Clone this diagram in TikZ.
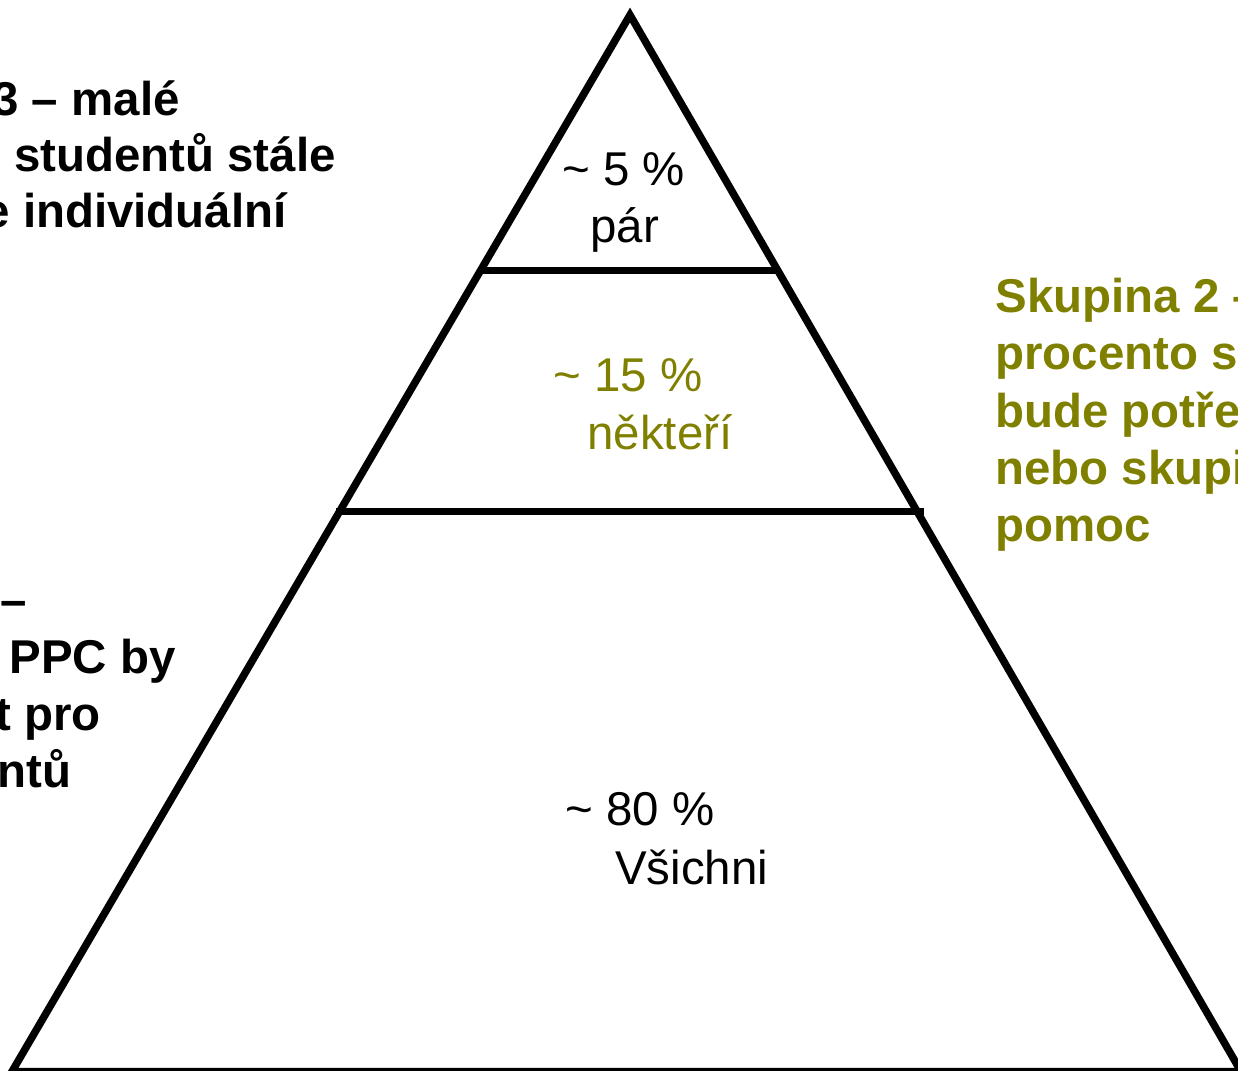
\documentclass[tikz,border=0pt]{standalone}
\usepackage{fontspec}
\setmainfont{Liberation Sans}
\definecolor{olivegreen}{RGB}{128,128,0}
\tikzset{
  label text/.style={inner sep=0pt, font=\fontsize{27pt}{32.4pt}\selectfont},
  side text/.style={inner sep=0pt, font=\fontsize{27pt}{32.4pt}\selectfont\bfseries}
}
\begin{document}
\begin{tikzpicture}[x=0.02cm, y=-0.02cm]
  \useasboundingbox (0,0) rectangle (1238,1071);
  \clip (0,0) rectangle (1238,1071);

  \coordinate (apex) at (630,15);
  \coordinate (left) at (12,1071.5);
  \coordinate (right) at (1241,1071.5);
  \draw[line width=0.15cm, line join=miter] (apex) -- (left) -- (right) -- cycle;

  \coordinate (top a) at (483,270.5);
  \coordinate (top b) at (778,270.5);
  \coordinate (mid a) at (336,511.5);
  \coordinate (mid b) at (924,511.5);
  \draw[line width=0.13cm] (top a) -- (top b);
  \draw[line width=0.13cm] (mid a) -- (mid b);

  \node[label text, anchor=base west] (few pct) at (562,186) {\textasciitilde\ 5 \%};
  \node[label text, anchor=base west] (few) at (590,243) {pár};
  \node[label text, anchor=base west, text=olivegreen] (some pct) at (553,392) {\textasciitilde\ 15 \%};
  \node[label text, anchor=base west, text=olivegreen] (some) at (587,449) {někteří};
  \node[label text, anchor=base west] (all pct) at (565,825) {\textasciitilde\ 80 \%};
  \node[label text, anchor=base west] (all) at (615,884) {Všichni};

  \node[side text, anchor=base east] (g3 a) at (180,116) {3 – malé};
  \node[side text, anchor=base east] (g3 b) at (336,172) {studentů stále};
  \node[side text, anchor=base east] (g3 c) at (287,228) {e individuální};

  \node[side text, anchor=base east] (g1 a) at (27,616) {–};
  \node[side text, anchor=base east] (g1 b) at (176,673) {PPC by};
  \node[side text, anchor=base east] (g1 c) at (101,730) {t pro};
  \node[side text, anchor=base east] (g1 d) at (72,787) {ntů};

  \node[side text, anchor=base west, text=olivegreen] (g2 a) at (995,313) {Skupina 2 –};
  \node[side text, anchor=base west, text=olivegreen] (g2 b) at (995,370) {procento s};
  \node[side text, anchor=base west, text=olivegreen] (g2 c) at (995,427) {bude potře};
  \node[side text, anchor=base west, text=olivegreen] (g2 d) at (995,484) {nebo skupi};
  \node[side text, anchor=base west, text=olivegreen] (g2 e) at (995,541) {pomoc};
\end{tikzpicture}
\end{document}
